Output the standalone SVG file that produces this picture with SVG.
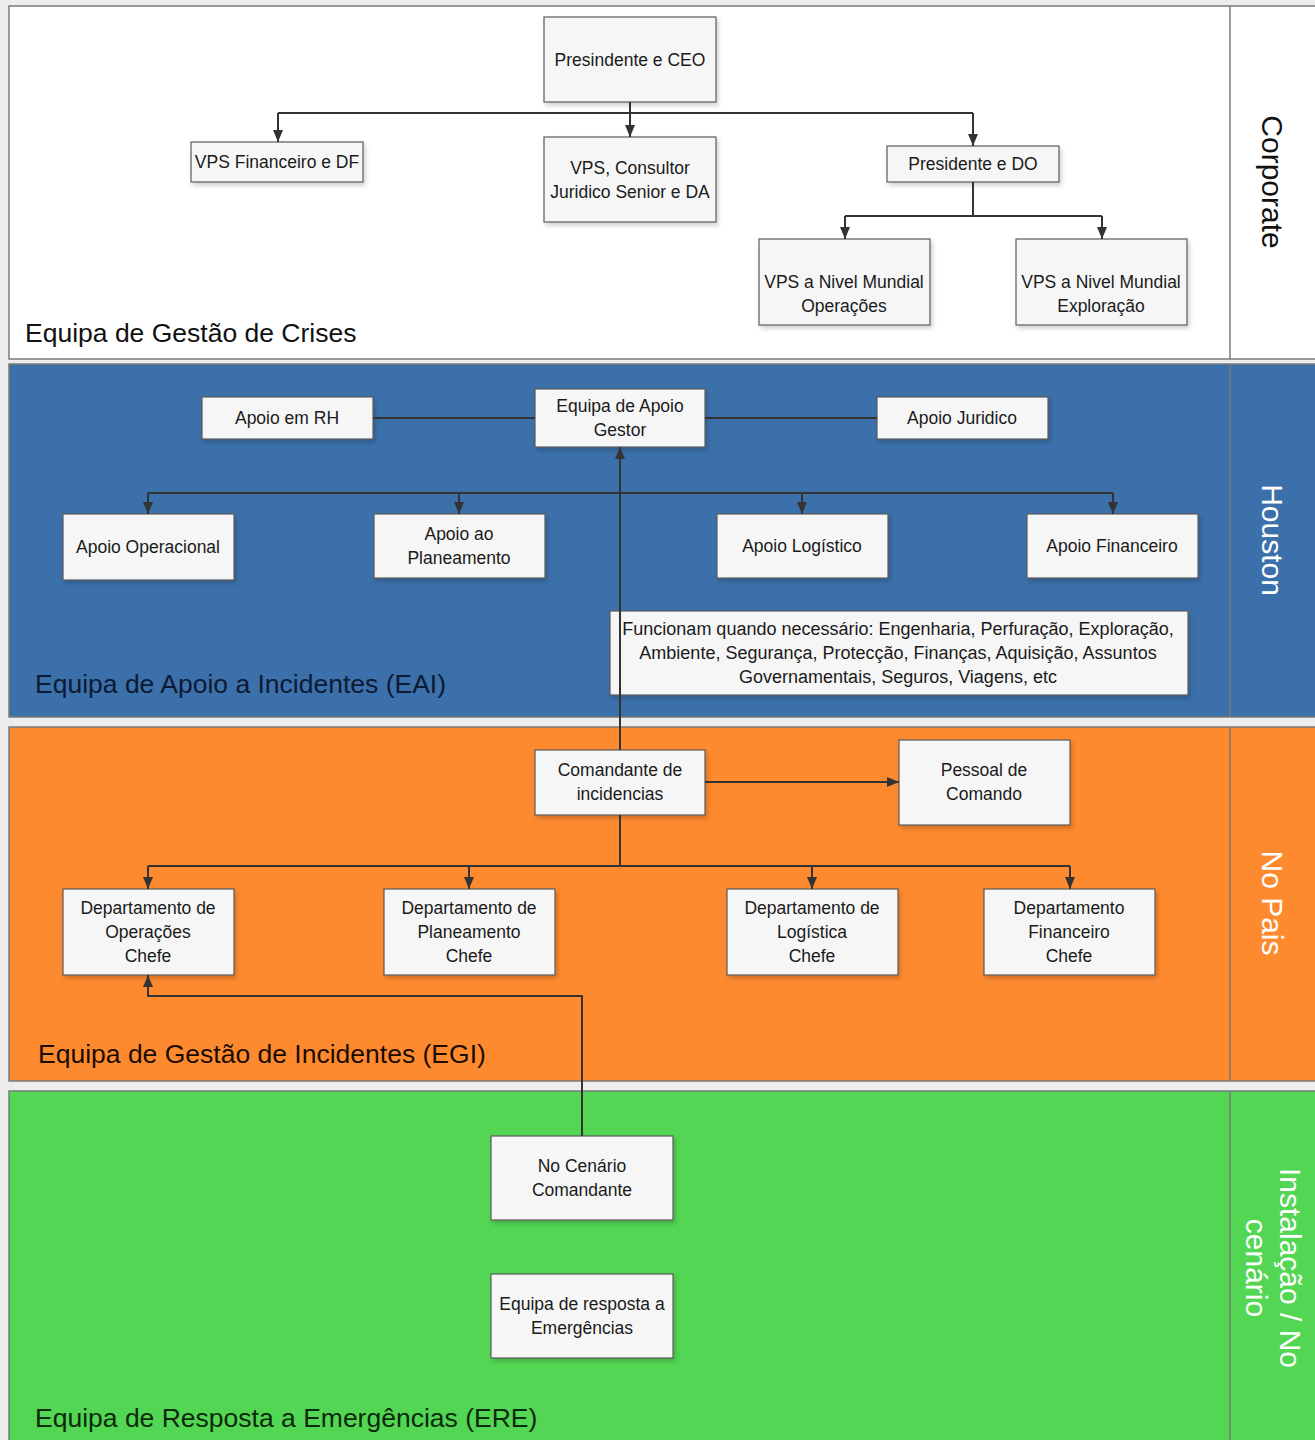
<svg xmlns="http://www.w3.org/2000/svg" width="1315" height="1440" viewBox="0 0 1315 1440">
<defs>
<style>
.node rect{fill:#f6f6f6;stroke:#5a5a5a;stroke-width:1.2;filter:url(#sh)}
.node text{font-family:"Liberation Sans",Arial,sans-serif;font-size:17.5px;fill:#1a1a1a;text-anchor:middle}
.con{fill:none;stroke:#333;stroke-width:2}
.title{font-family:"Liberation Sans",Arial,sans-serif;font-size:26.5px}
.side{font-family:"Liberation Sans",Arial,sans-serif;font-size:30px;text-anchor:middle;dominant-baseline:central}
.lane{stroke:#7a7a7a;stroke-width:1.5}
</style>
<filter id="sh" x="-10%" y="-10%" width="130%" height="140%">
<feDropShadow dx="2" dy="3" stdDeviation="2" flood-color="#000" flood-opacity="0.18"/>
</filter>
<marker id="ah" viewBox="0 0 12 10" refX="12" refY="5" markerWidth="12" markerHeight="10" markerUnits="userSpaceOnUse" orient="auto">
<path d="M0,0 L12,5 L0,10 z" fill="#333"/>
</marker>
</defs>
<rect width="1315" height="1440" fill="#ededed"/>
<g id="lanes">
<rect class="lane" x="9" y="6" width="1310" height="353" fill="#ffffff"/>
<line class="lane" x1="1230" y1="6" x2="1230" y2="359"/>
<rect class="lane" x="9" y="364" width="1310" height="353" fill="#3c70aa"/>
<line class="lane" x1="1230" y1="364" x2="1230" y2="717" stroke="#2a4e7a"/>
<rect class="lane" x="9" y="727" width="1310" height="354" fill="#fe8a2f"/>
<line class="lane" x1="1230" y1="727" x2="1230" y2="1081"/>
<rect class="lane" x="9" y="1091" width="1310" height="355" fill="#53d653"/>
<line class="lane" x1="1230" y1="1091" x2="1230" y2="1440"/>
<text class="title" x="25" y="342" fill="#111">Equipa de Gestão de Crises</text>
<text class="title" x="35" y="693" fill="#0c1a33">Equipa de Apoio a Incidentes (EAI)</text>
<text class="title" x="38" y="1063" fill="#1a0d00">Equipa de Gestão de Incidentes (EGI)</text>
<text class="title" x="35" y="1427" fill="#0b2a0b">Equipa de Resposta a Emergências (ERE)</text>
<text class="side" transform="translate(1272,182) rotate(90)" fill="#111">Corporate</text>
<text class="side" transform="translate(1272,540) rotate(90)" fill="#ffffff">Houston</text>
<text class="side" transform="translate(1272,903) rotate(90)" fill="#ffffff">No Pais</text>
<text class="side" transform="translate(1290,1268) rotate(90)" fill="#ffffff">Instalação / No</text>
<text class="side" transform="translate(1256,1268) rotate(90)" fill="#ffffff">cenário</text>
</g>
<g id="n-ceo" class="node"><rect x="544" y="17" width="172" height="85"/><text x="630" y="66">Presindente e CEO</text></g>
<g id="n-vpsfin" class="node"><rect x="191" y="142" width="172" height="40"/><text x="277" y="168">VPS Financeiro e DF</text></g>
<g id="n-vpscons" class="node"><rect x="544" y="137" width="172" height="85"/><text x="630" y="174">VPS, Consultor</text><text x="630" y="198">Juridico Senior e DA</text></g>
<g id="n-presdo" class="node"><rect x="887" y="146" width="172" height="36"/><text x="973" y="170">Presidente e DO</text></g>
<g id="n-vpsop" class="node"><rect x="759" y="239" width="171" height="86"/><text x="844" y="288">VPS a Nivel Mundial</text><text x="844" y="312">Operações</text></g>
<g id="n-vpsexp" class="node"><rect x="1016" y="239" width="171" height="86"/><text x="1101" y="288">VPS a Nivel Mundial</text><text x="1101" y="312">Exploração</text></g>
<g id="n-rh" class="node"><rect x="202" y="397" width="171" height="42"/><text x="287" y="424">Apoio em RH</text></g>
<g id="n-gestor" class="node"><rect x="535" y="389" width="170" height="58"/><text x="620" y="412">Equipa de Apoio</text><text x="620" y="436">Gestor</text></g>
<g id="n-jur" class="node"><rect x="877" y="397" width="171" height="42"/><text x="962" y="424">Apoio Juridico</text></g>
<g id="n-aop" class="node"><rect x="63" y="514" width="171" height="66"/><text x="148" y="553">Apoio Operacional</text></g>
<g id="n-apl" class="node"><rect x="374" y="514" width="171" height="64"/><text x="459" y="540">Apoio ao</text><text x="459" y="564">Planeamento</text></g>
<g id="n-alog" class="node"><rect x="717" y="514" width="171" height="64"/><text x="802" y="552">Apoio Logístico</text></g>
<g id="n-afin" class="node"><rect x="1027" y="514" width="171" height="64"/><text x="1112" y="552">Apoio Financeiro</text></g>
<g id="n-func" class="node"><rect x="610" y="611" width="578" height="84"/><text x="898" y="635" style="font-size:18px">Funcionam quando necessário: Engenharia, Perfuração, Exploração,</text><text x="898" y="659" style="font-size:18px">Ambiente, Segurança, Protecção, Finanças, Aquisição, Assuntos</text><text x="898" y="683" style="font-size:18px">Governamentais, Seguros, Viagens, etc</text></g>
<g id="n-cmd" class="node"><rect x="535" y="750" width="170" height="65"/><text x="620" y="776">Comandante de</text><text x="620" y="800">incidencias</text></g>
<g id="n-pess" class="node"><rect x="899" y="740" width="171" height="85"/><text x="984" y="776">Pessoal de</text><text x="984" y="800">Comando</text></g>
<g id="n-dop" class="node"><rect x="63" y="889" width="171" height="86"/><text x="148" y="914">Departamento de</text><text x="148" y="938">Operações</text><text x="148" y="962">Chefe</text></g>
<g id="n-dpl" class="node"><rect x="384" y="889" width="171" height="86"/><text x="469" y="914">Departamento de</text><text x="469" y="938">Planeamento</text><text x="469" y="962">Chefe</text></g>
<g id="n-dlog" class="node"><rect x="727" y="889" width="171" height="86"/><text x="812" y="914">Departamento de</text><text x="812" y="938">Logística</text><text x="812" y="962">Chefe</text></g>
<g id="n-dfin" class="node"><rect x="984" y="889" width="171" height="86"/><text x="1069" y="914">Departamento</text><text x="1069" y="938">Financeiro</text><text x="1069" y="962">Chefe</text></g>
<g id="n-cen" class="node"><rect x="491" y="1136" width="182" height="84"/><text x="582" y="1172">No Cenário</text><text x="582" y="1196">Comandante</text></g>
<g id="n-ere" class="node"><rect x="491" y="1274" width="182" height="84"/><text x="582" y="1310">Equipa de resposta a</text><text x="582" y="1334">Emergências</text></g>
<g id="connectors">
<path class="con" d="M630,102 V113"/>
<path class="con" d="M278,113 H973"/>
<path class="con" d="M278,113 V142" marker-end="url(#ah)"/>
<path class="con" d="M630,113 V137" marker-end="url(#ah)"/>
<path class="con" d="M973,113 V146" marker-end="url(#ah)"/>
<path class="con" d="M973,182 V216 M845,216 H1102"/>
<path class="con" d="M845,216 V239" marker-end="url(#ah)"/>
<path class="con" d="M1102,216 V239" marker-end="url(#ah)"/>
<path class="con" d="M373,418 H535 M705,418 H877"/>
<path class="con" d="M148,493 H1113"/>
<path class="con" d="M148,493 V514" marker-end="url(#ah)"/>
<path class="con" d="M459,493 V514" marker-end="url(#ah)"/>
<path class="con" d="M802,493 V514" marker-end="url(#ah)"/>
<path class="con" d="M1113,493 V514" marker-end="url(#ah)"/>
<path class="con" d="M620,750 V447" marker-end="url(#ah)"/>
<path class="con" d="M705,782 H899" marker-end="url(#ah)"/>
<path class="con" d="M620,815 V866 M148,866 H1070"/>
<path class="con" d="M148,866 V889" marker-end="url(#ah)"/>
<path class="con" d="M469,866 V889" marker-end="url(#ah)"/>
<path class="con" d="M812,866 V889" marker-end="url(#ah)"/>
<path class="con" d="M1070,866 V889" marker-end="url(#ah)"/>
<path class="con" d="M582,1136 V996 H148 V975" marker-end="url(#ah)"/>
</g>
</svg>
